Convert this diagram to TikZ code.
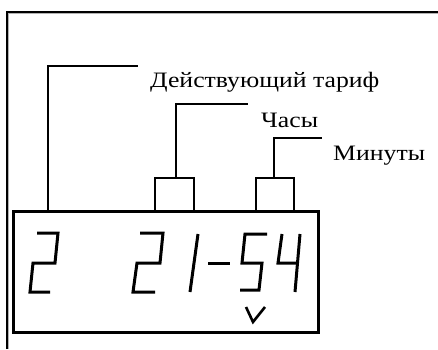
\documentclass[tikz,border=0pt]{standalone}
\usepackage{fontspec}
\setmainfont[FakeStretch=1.17]{Liberation Serif}
\begin{document}
\begin{tikzpicture}[x=1pt,y=1pt,
  frameline/.style={line width=2pt,black},
  dispbox/.style={draw,line width=3pt,inner sep=0pt,minimum width=304.5pt,minimum height=121pt},
  smallbox/.style={draw,line width=2pt,inner sep=0pt,minimum height=33pt},
  leader/.style={line width=1.5pt},
  seg/.style={line width=3pt,line join=miter,line cap=butt},
  lbl/.style={inner sep=0pt,anchor=base west,font=\fontsize{22}{25}\selectfont}]
\useasboundingbox (0,0) rectangle (438,349);
% outer frame (left and top edges)
\draw[gray!60,line width=1pt] (8.5,0) -- (8.5,335.5) -- (438,335.5);
\draw[frameline] (7,0) -- (7,337) -- (438,337);
% display and digit boxes
\node[dispbox] (disp) at (165.75,77.5) {};
\node[smallbox,minimum width=39pt] (hh) at (174.5,154.5) {};
\node[smallbox,minimum width=38pt] (mm) at (275,154.5) {};
% labels
\node[lbl] (tarif) at (150,262) {Действующий тариф};
\node[lbl] (hours) at (261,222) {Часы};
\node[lbl] (mins) at (333,189) {Минуты};
% leader coordinates
\coordinate (l1) at (48,283);
\coordinate (l1e) at (138,283);
\coordinate (l2) at (176,245);
\coordinate (l2e) at (248,245);
\coordinate (l3) at (274,211);
\coordinate (l3e) at (322,211);
\draw[leader] (disp.north -| l1) -- (l1) -- (l1e);
\draw[leader] (hh.north -| l2) -- (l2) -- (l2e);
\draw[leader] (mm.north -| l3) -- (l3) -- (l3e);
% digits
\draw[seg] (37,116) -- (58,116) -- (55,86) -- (33,86) -- (30,57) -- (50,57);
\draw[seg] (140,116) -- (163,116) -- (160,86) -- (137,86) -- (133,57) -- (155,57);
\draw[seg] (198,115) -- (190,57);
\draw[seg] (208,86) -- (230,86);
\draw[seg] (267,115) -- (245,115) -- (242,86) -- (262,86) -- (259,59) -- (240,59);
\draw[seg] (282,115) -- (278,86) -- (298,86);
\draw[seg] (300,115) -- (295,57);
\draw[line width=2.6pt,line join=miter] (246,42) -- (253,27) -- (265,42);
\end{tikzpicture}
\end{document}
